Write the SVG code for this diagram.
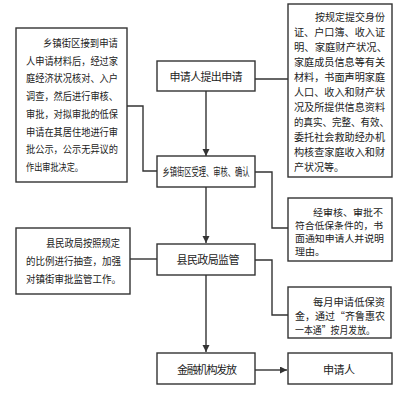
<svg xmlns="http://www.w3.org/2000/svg" width="406" height="409" viewBox="0 0 406 409">
<style>
.box{fill:#fff;stroke:#333;stroke-width:1.4}
.ln{fill:none;stroke:#333;stroke-width:1.4}
text{font-family:"Noto Sans CJK SC","Noto Sans",sans-serif;fill:#222;font-size:10.5px}
.c{text-anchor:middle;font-size:11px}
.s{font-size:9.6px}
</style>
<defs>
<marker id="ah" markerUnits="userSpaceOnUse" markerWidth="8" markerHeight="8" refX="7" refY="3.5" orient="auto">
<path d="M0,0 L7,3.5 L0,7 Z" fill="#333"/>
</marker>
</defs>
<rect width="406" height="409" fill="#fff"/>
<g id="connectors">
<line class="ln" x1="206" y1="91" x2="206" y2="156" marker-end="url(#ah)"/>
<line class="ln" x1="206" y1="187" x2="206" y2="243" marker-end="url(#ah)"/>
<line class="ln" x1="206" y1="275" x2="206" y2="352" marker-end="url(#ah)"/>
<line class="ln" x1="255" y1="79" x2="288" y2="79"/>
<polyline class="ln" points="127,106 143,106 143,171 157,171"/>
<polyline class="ln" points="255,172 272,172 272,228 288,228"/>
<line class="ln" x1="130" y1="259" x2="157" y2="259"/>
<polyline class="ln" points="255,260 272,260 272,315 288,315"/>
<line class="ln" x1="255" y1="370" x2="287" y2="370" marker-end="url(#ah)"/>
</g>
<g id="note1">
<rect class="box" x="16" y="28" width="111" height="154"/>
<text x="43" y="47" textLength="75" lengthAdjust="spacingAndGlyphs">乡镇街区接到申请</text>
<text x="26" y="64.7" textLength="92" lengthAdjust="spacingAndGlyphs">人申请材料后，经过家</text>
<text x="26" y="82.4" textLength="92" lengthAdjust="spacingAndGlyphs">庭经济状况核对、入户</text>
<text x="26" y="100.1" textLength="92" lengthAdjust="spacingAndGlyphs">调查，然后进行审核、</text>
<text x="26" y="117.8" textLength="92" lengthAdjust="spacingAndGlyphs">审批，对拟审批的低保</text>
<text x="26" y="135.5" textLength="92" lengthAdjust="spacingAndGlyphs">申请在其居住地进行审</text>
<text x="26" y="153.2" textLength="92" lengthAdjust="spacingAndGlyphs">批公示，公示无异议的</text>
<text x="26" y="170.9" textLength="57" lengthAdjust="spacingAndGlyphs">作出审批决定。</text>
</g>
<g id="apply">
<rect class="box" x="157" y="61" width="98" height="30"/>
<text class="c" x="206" y="80.5" textLength="73" lengthAdjust="spacing">申请人提出申请</text>
</g>
<g id="note2">
<rect class="box" x="288" y="4" width="104" height="173"/>
<text x="315" y="21" textLength="70" lengthAdjust="spacingAndGlyphs">按规定提交身份</text>
<text x="294" y="36" textLength="91" lengthAdjust="spacingAndGlyphs">证、户口簿、收入证</text>
<text x="294" y="51" textLength="93" lengthAdjust="spacingAndGlyphs">明、家庭财产状况、</text>
<text x="294" y="66" textLength="91" lengthAdjust="spacingAndGlyphs">家庭成员信息等有关</text>
<text x="294" y="81" textLength="91" lengthAdjust="spacingAndGlyphs">材料，书面声明家庭</text>
<text x="294" y="96" textLength="91" lengthAdjust="spacingAndGlyphs">人口、收入和财产状</text>
<text x="294" y="111" textLength="91" lengthAdjust="spacingAndGlyphs">况及所提供信息资料</text>
<text x="294" y="126" textLength="95" lengthAdjust="spacingAndGlyphs">的真实、完整、有效、</text>
<text x="294" y="141" textLength="91" lengthAdjust="spacingAndGlyphs">委托社会救助经办机</text>
<text x="294" y="156" textLength="91" lengthAdjust="spacingAndGlyphs">构核查家庭收入和财</text>
<text x="294" y="171" textLength="50" lengthAdjust="spacingAndGlyphs">产状况等。</text>
</g>
<g id="town">
<rect class="box" x="157" y="156" width="98" height="31"/>
<text class="c" x="206" y="175.5" textLength="87" lengthAdjust="spacingAndGlyphs">乡镇街区受理、审核、确认</text>
</g>
<g id="note3">
<rect class="box" x="288" y="198" width="104" height="63"/>
<text class="s" x="313" y="215.5" textLength="70" lengthAdjust="spacingAndGlyphs">经审核、审批不</text>
<text class="s" x="295" y="228.8" textLength="88" lengthAdjust="spacingAndGlyphs">符合低保条件的，书</text>
<text class="s" x="295" y="242.1" textLength="89" lengthAdjust="spacingAndGlyphs">面通知申请人并说明</text>
<text class="s" x="295" y="255.4" textLength="30" lengthAdjust="spacingAndGlyphs">理由。</text>
</g>
<g id="note4">
<rect class="box" x="16" y="228" width="114" height="66"/>
<text x="46" y="247" textLength="74" lengthAdjust="spacingAndGlyphs">县民政局按照规定</text>
<text x="26" y="265" textLength="95" lengthAdjust="spacingAndGlyphs">的比例进行抽查，加强</text>
<text x="26" y="283" textLength="95" lengthAdjust="spacingAndGlyphs">对镇街审批监管工作。</text>
</g>
<g id="county">
<rect class="box" x="157" y="244" width="98" height="31"/>
<text class="c" x="208" y="263.5" textLength="63" lengthAdjust="spacing">县民政局监管</text>
</g>
<g id="note5">
<rect class="box" x="288" y="287" width="103" height="51"/>
<text x="313" y="305.5" textLength="72" lengthAdjust="spacingAndGlyphs">每月申请低保资</text>
<text x="295" y="319.5" textLength="90" lengthAdjust="spacingAndGlyphs">金，通过“齐鲁惠农</text>
<text x="295" y="333.5" textLength="80" lengthAdjust="spacingAndGlyphs">一本通”按月发放。</text>
</g>
<g id="bank">
<rect class="box" x="157" y="353" width="98" height="31"/>
<text class="c" x="207" y="373.5" textLength="60" lengthAdjust="spacing">金融机构发放</text>
</g>
<g id="applicant">
<rect class="box" x="288" y="353" width="104" height="31"/>
<text class="c" x="339" y="373.5" textLength="32" lengthAdjust="spacing">申请人</text>
</g>
</svg>
